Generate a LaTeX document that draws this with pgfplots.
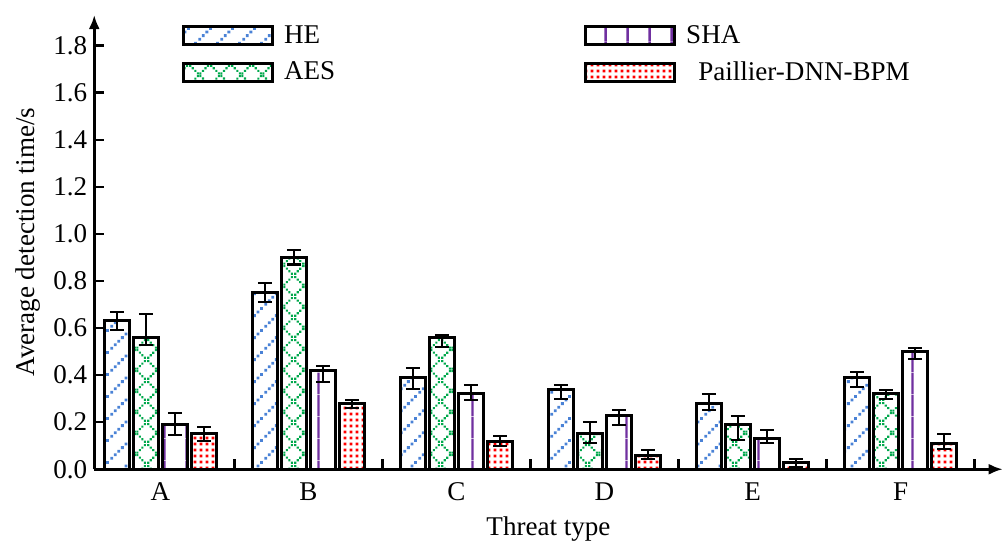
\documentclass[border=0pt]{standalone}
\usepackage{pgfplots}
\pgfplotsset{compat=1.18}
\usepackage{fontspec}
\setmainfont{Liberation Serif}
\usetikzlibrary{patterns.meta,arrows.meta}

\definecolor{heblue}{HTML}{4A82D6}
\definecolor{aesgreen}{HTML}{00A84C}
\definecolor{shapurple}{HTML}{7030A0}

% dotted diagonal lines
\tikzdeclarepattern{
  name=hedots, type=uncolored,
  bottom left={(0pt,0pt)}, top right={(11pt,11pt)}, tile size={(11pt,11pt)},
  code={\foreach \i in {0,...,5}{\fill (\i*1.833pt+0.2pt,\i*1.833pt+0.2pt) rectangle ++(1.45pt,1.45pt);}}
}
% dotted cross hatch
\tikzdeclarepattern{
  name=aesdots, type=uncolored,
  bottom left={(0pt,0pt)}, top right={(10.5pt,10.5pt)}, tile size={(10.5pt,10.5pt)},
  code={\foreach \i in {0,...,7}{
      \fill (\i*1.3125pt+0.1pt,\i*1.3125pt+0.1pt) rectangle ++(1.1pt,1.1pt);
      \fill (\i*1.3125pt+0.1pt,9.3pt-\i*1.3125pt) rectangle ++(1.1pt,1.1pt);}}
}
% sparse vertical lines
\tikzdeclarepattern{
  name=shalines, type=uncolored,
  bottom left={(0pt,0pt)}, top right={(11pt,11pt)}, tile size={(11pt,11pt)},
  code={\fill (4.9pt,0pt) rectangle (6.1pt,11pt);}
}
% dense squares
\tikzdeclarepattern{
  name=paidots, type=uncolored,
  bottom left={(0pt,0pt)}, top right={(3.2pt,3.2pt)}, tile size={(3.2pt,3.2pt)},
  code={\fill (0.85pt,0.85pt) rectangle ++(1.5pt,1.5pt);}
}

\begin{document}
\begin{tikzpicture}
\begin{axis}[
  scale only axis,
  width=453pt, height=226.5pt,
  font=\fontsize{13.5}{16}\selectfont,
  ybar, bar width=12.5pt,
  xmin=-0.447, xmax=5.69, ymin=0, ymax=1.93,
  axis lines=left,
  axis line style={line width=1.3pt, -{Latex[length=7pt,width=5.5pt]}},
  xtick={0.5,1.5,2.5,3.5,4.5,5.5}, xticklabels={},
  extra x ticks={0,1,2,3,4,5},
  extra x tick labels={A,B,C,D,E,F},
  extra x tick style={major tick length=0pt},
  xticklabel style={yshift=-3pt},
  ytick={0,0.2,0.4,0.6,0.8,1.0,1.2,1.4,1.6,1.8},
  yticklabel style={/pgf/number format/.cd, fixed, fixed zerofill, precision=1},
  /pgf/number format/assume math mode=true,
  tick align=inside, major tick length=5pt,
  tick style={black, line width=1.2pt},
  xlabel={Threat type}, ylabel={Average detection time/s},
  xlabel style={yshift=-1pt},
  ylabel style={yshift=-0.5pt},
  every axis plot/.append style={draw=black, line width=1.5pt},
  error bars/error bar style={line width=1pt, black},
  error bars/error mark options={rotate=90, mark size=3.5pt, line width=1pt, black},
  legend image code/.code={\draw[#1, line width=1.5pt] (0pt,-4.5pt) rectangle (44.5pt,4.5pt);},
  transpose legend, legend columns=2,
  legend style={draw=none, fill=none, inner sep=0pt, at={(0.096,0.987)}, anchor=north west,
    row sep=3.5pt, font=\fontsize{13.5}{16}\selectfont,
    /tikz/every odd column/.append style={column sep=3pt},
    /tikz/every even column/.append style={column sep=122pt}},
  legend cell align=left,
]
\addplot[pattern={hedots}, pattern color=heblue,
  error bars/.cd, y dir=both, y explicit] coordinates {
  (0,0.63) += (0,0.04) -= (0,0.04)
  (1,0.75) += (0,0.04) -= (0,0.04)
  (2,0.39) += (0,0.04) -= (0,0.05)
  (3,0.34) += (0,0.02) -= (0,0.04)
  (4,0.28) += (0,0.04) -= (0,0.03)
  (5,0.39) += (0,0.025) -= (0,0.04)
};
\addlegendentry{HE}
\addplot[pattern={aesdots}, pattern color=aesgreen,
  error bars/.cd, y dir=both, y explicit] coordinates {
  (0,0.56) += (0,0.10) -= (0,0.03)
  (1,0.90) += (0,0.03) -= (0,0.03)
  (2,0.56) += (0,0.012) -= (0,0.04)
  (3,0.15) += (0,0.05) -= (0,0.04)
  (4,0.19) += (0,0.035) -= (0,0.065)
  (5,0.32) += (0,0.015) -= (0,0.02)
};
\addlegendentry{AES}
\addplot[pattern={shalines}, pattern color=shapurple,
  error bars/.cd, y dir=both, y explicit] coordinates {
  (0,0.19) += (0,0.05) -= (0,0.045)
  (1,0.42) += (0,0.02) -= (0,0.05)
  (2,0.32) += (0,0.04) -= (0,0.025)
  (3,0.23) += (0,0.02) -= (0,0.04)
  (4,0.13) += (0,0.035) -= (0,0.02)
  (5,0.50) += (0,0.015) -= (0,0.03)
};
\addlegendentry{SHA}
\addplot[pattern={paidots}, pattern color=red,
  error bars/.cd, y dir=both, y explicit] coordinates {
  (0,0.15) += (0,0.03) -= (0,0.03)
  (1,0.28) += (0,0.015) -= (0,0.02)
  (2,0.12) += (0,0.02) -= (0,0.02)
  (3,0.06) += (0,0.02) -= (0,0.015)
  (4,0.03) += (0,0.013) -= (0,0.02)
  (5,0.11) += (0,0.04) -= (0,0.025)
};
\addlegendentry{\hspace{6pt}Paillier-DNN-BPM}
\end{axis}
% white margin at top and left, as in the reference
\path ([shift={(-47pt,7.5pt)}]current axis.north west);
\end{tikzpicture}
\end{document}
